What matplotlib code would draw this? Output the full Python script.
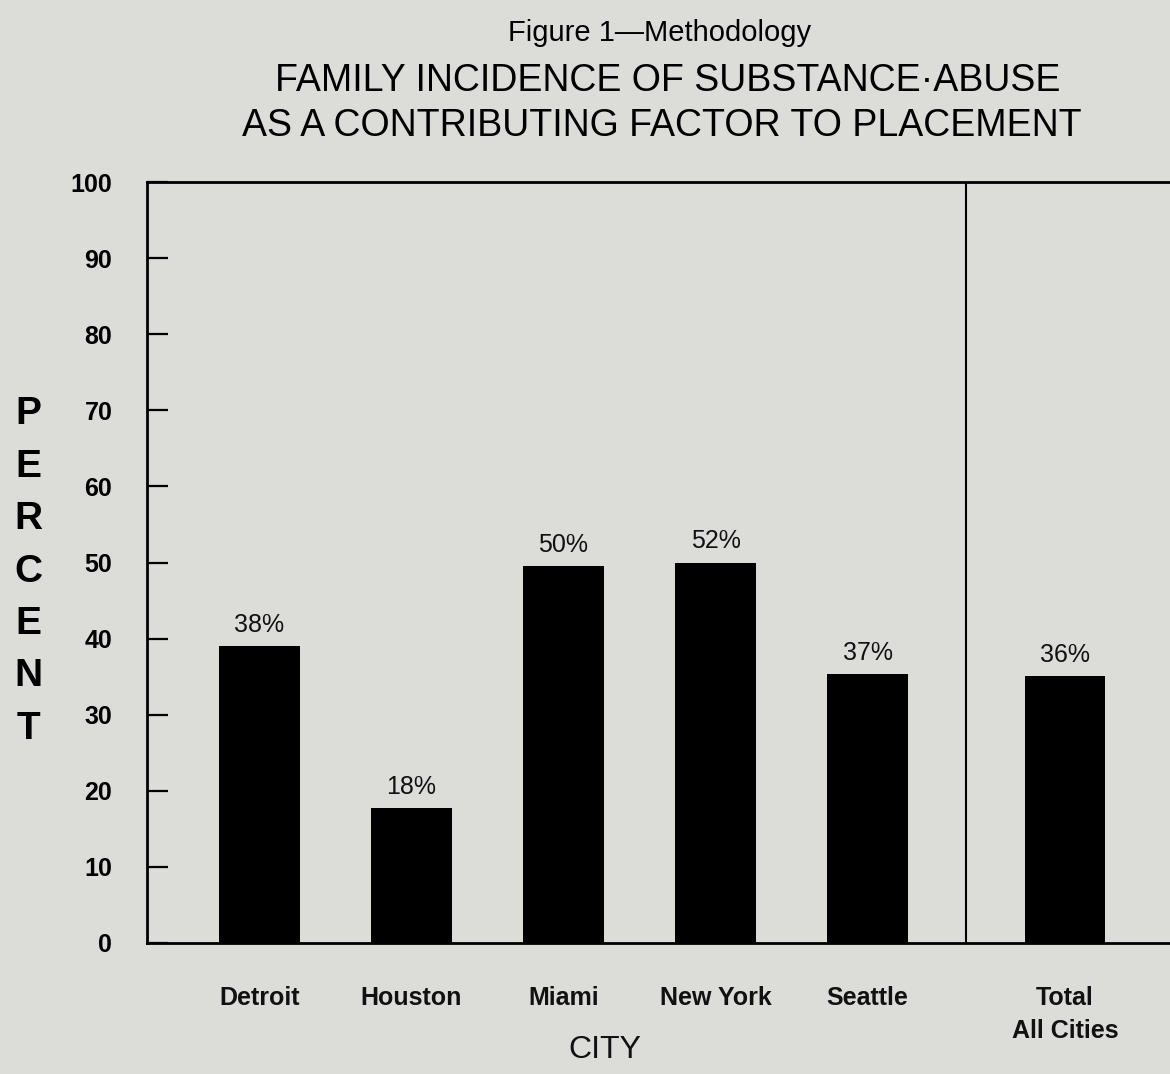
import matplotlib.pyplot as plt

# data
cities = ["Detroit", "Houston", "Miami", "New York", "Seattle", "Total\nAll Cities"]
bar_heights = [39.0, 17.7, 49.5, 50.0, 35.3, 35.1]
bar_labels = ["38%", "18%", "50%", "52%", "37%", "36%"]
x_pos = [0, 1, 2, 3, 4, 5.3]
y_ticks = [0, 10, 20, 30, 40, 50, 60, 70, 80, 90, 100]

bg = "#dcdcd9"
font = ["Liberation Sans", "DejaVu Sans"]

fig = plt.figure(figsize=(11.7, 10.74), dpi=100, facecolor=bg)
ax = fig.add_axes([147 / 1170, 1 - 943 / 1074, 1 - 147 / 1170, (943 - 182) / 1074])
ax.set_facecolor(bg)

ax.bar(x_pos, bar_heights, width=0.53, color="black")

for x, h, lab in zip(x_pos, bar_heights, bar_labels):
    ax.text(x, h + 1.2, lab, ha="center", va="bottom", fontsize=18,
            family=font, color="#111111")

# separator between single cities and total
ax.axvline(4.65, color="black", lw=1.5)

ax.set_xlim(-0.74, 5.99)
ax.set_ylim(0, 100)
ax.set_yticks(y_ticks)
ax.set_yticklabels([str(t) for t in y_ticks], fontsize=18, fontweight="bold",
                   family=font)
ax.tick_params(axis="y", direction="in", length=15, width=1.6, pad=25)
ax.set_xticks([])

for s in ["left", "top", "bottom"]:
    ax.spines[s].set_linewidth(2)
ax.spines["right"].set_visible(False)

# city names under axis
for x, c in zip(x_pos, cities):
    ax.text(x, -5.6, c, ha="center", va="top", fontsize=18, family=font,
            fontweight="bold", color="#111111", linespacing=1.5)

fig.text(605 / 1170, 1 - 1050 / 1074, "CITY", ha="center", va="center",
         fontsize=23, family=font, color="#111111")

# vertical stacked y label
for i, ch in enumerate("PERCENT"):
    fig.text(28 / 1170, 1 - (414 + i * 52.5) / 1074, ch, ha="center",
             va="center", fontsize=28, fontweight="bold", family=font)

fig.text(660 / 1170, 1 - 33 / 1074, "Figure 1\u2014Methodology", ha="center",
         va="center", fontsize=21, family=font)
fig.text(668 / 1170, 1 - 81 / 1074, "FAMILY INCIDENCE OF SUBSTANCE\u00b7ABUSE",
         ha="center", va="center", fontsize=27, family=font)
fig.text(662 / 1170, 1 - 126 / 1074, "AS A CONTRIBUTING FACTOR TO PLACEMENT",
         ha="center", va="center", fontsize=27, family=font)

fig.savefig("out.png", dpi=100, facecolor=bg)
